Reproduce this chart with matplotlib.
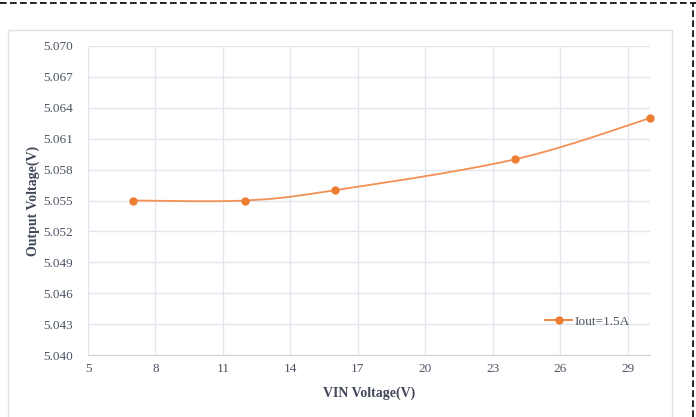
import numpy as np
import matplotlib.pyplot as plt
from matplotlib.patches import Rectangle
from matplotlib.lines import Line2D

plt.rcParams['font.family'] = ['Liberation Serif', 'DejaVu Serif']

# data
vin = [7, 12, 16, 24, 30]
vout = [5.055, 5.055, 5.056, 5.059, 5.063]
series_name = 'Iout=1.5A'
x_ticks = [5, 8, 11, 14, 17, 20, 23, 26, 29]
y_ticks = [5.040, 5.043, 5.046, 5.049, 5.052, 5.055, 5.058, 5.061, 5.064, 5.067, 5.070]


def smooth(xs, ys, n=40):
    # excel-like smoothed line (bezier through points, catmull-rom controls)
    p = np.column_stack([xs, ys]).astype(float)
    p = np.vstack([p[0], p, p[-1]])
    out = []
    t = np.linspace(0, 1, n)[:, None]
    for i in range(1, len(p) - 2):
        p0, p3 = p[i], p[i + 1]
        c1 = p0 + (p[i + 1] - p[i - 1]) / 6
        c2 = p3 - (p[i + 2] - p[i]) / 6
        seg = ((1 - t) ** 3) * p0 + 3 * ((1 - t) ** 2) * t * c1 + 3 * (1 - t) * t ** 2 * c2 + t ** 3 * p3
        out.append(seg)
    s = np.vstack(out)
    return s[:, 0], s[:, 1]


fig = plt.figure(figsize=(6.96, 4.17), dpi=100)
W, H = 696, 417

# outer chart frame and page borders
fig.patches.append(Rectangle((8 / W, -0.05), 664 / W, 1 - 30 / H + 0.05, transform=fig.transFigure,
                             fill=False, edgecolor='#dde1e8', linewidth=1.0))
fig.add_artist(Line2D([0, 1], [1 - 3 / H, 1 - 3 / H], transform=fig.transFigure,
                      color='black', linestyle=(0, (4, 2)), linewidth=1.2))
fig.add_artist(Line2D([693 / W, 693 / W], [0, 1 - 3 / H], transform=fig.transFigure,
                      color='black', linestyle=(0, (4, 2)), linewidth=1.2))

ax = fig.add_axes([88 / W, 1 - 355 / H, (650 - 88) / W, (355 - 46) / H])

sx, sy = smooth(vin, vout)
ax.plot(sx, sy, color='#F29055', linewidth=1.3, zorder=3, clip_on=False)
ax.plot(vin, vout, 'o', color='#ED7D31', markersize=5, zorder=4, clip_on=False)

ax.set_xlim(5, 30)
ax.set_ylim(5.040, 5.070)
ax.set_xticks(x_ticks)
ax.set_yticks(y_ticks)
ax.set_yticklabels(['%.3f' % v for v in y_ticks])
ax.grid(True, color='#e3e6ee', linewidth=1.0)
ax.set_axisbelow(True)
for s in ['top', 'right']:
    ax.spines[s].set_visible(False)
ax.spines['left'].set_color('#e3e6ee')
ax.spines['bottom'].set_color('#d0d3da')
ax.tick_params(length=0, labelsize=9.5, colors='#4d5564')
ax.tick_params(axis='x', pad=6)
ax.tick_params(axis='y', pad=11)

ax.set_xlabel('VIN Voltage(V)', fontsize=10, fontweight='bold', color='#404859', labelpad=8)
ax.set_ylabel('Output Voltage(V)', fontsize=10, fontweight='bold', color='#404859')
ax.yaxis.set_label_coords(-0.086, 0.5)

handle = Line2D([], [], color='#ED7D31', marker='o', markersize=5, linewidth=1.3)
ax.legend([handle], [series_name], loc='lower right', bbox_to_anchor=(0.985, 0.05), frameon=False,
          fontsize=9.5, labelcolor='#4d5564', handlelength=2.0, handletextpad=0.2)

plt.savefig('out.png', dpi=100)
